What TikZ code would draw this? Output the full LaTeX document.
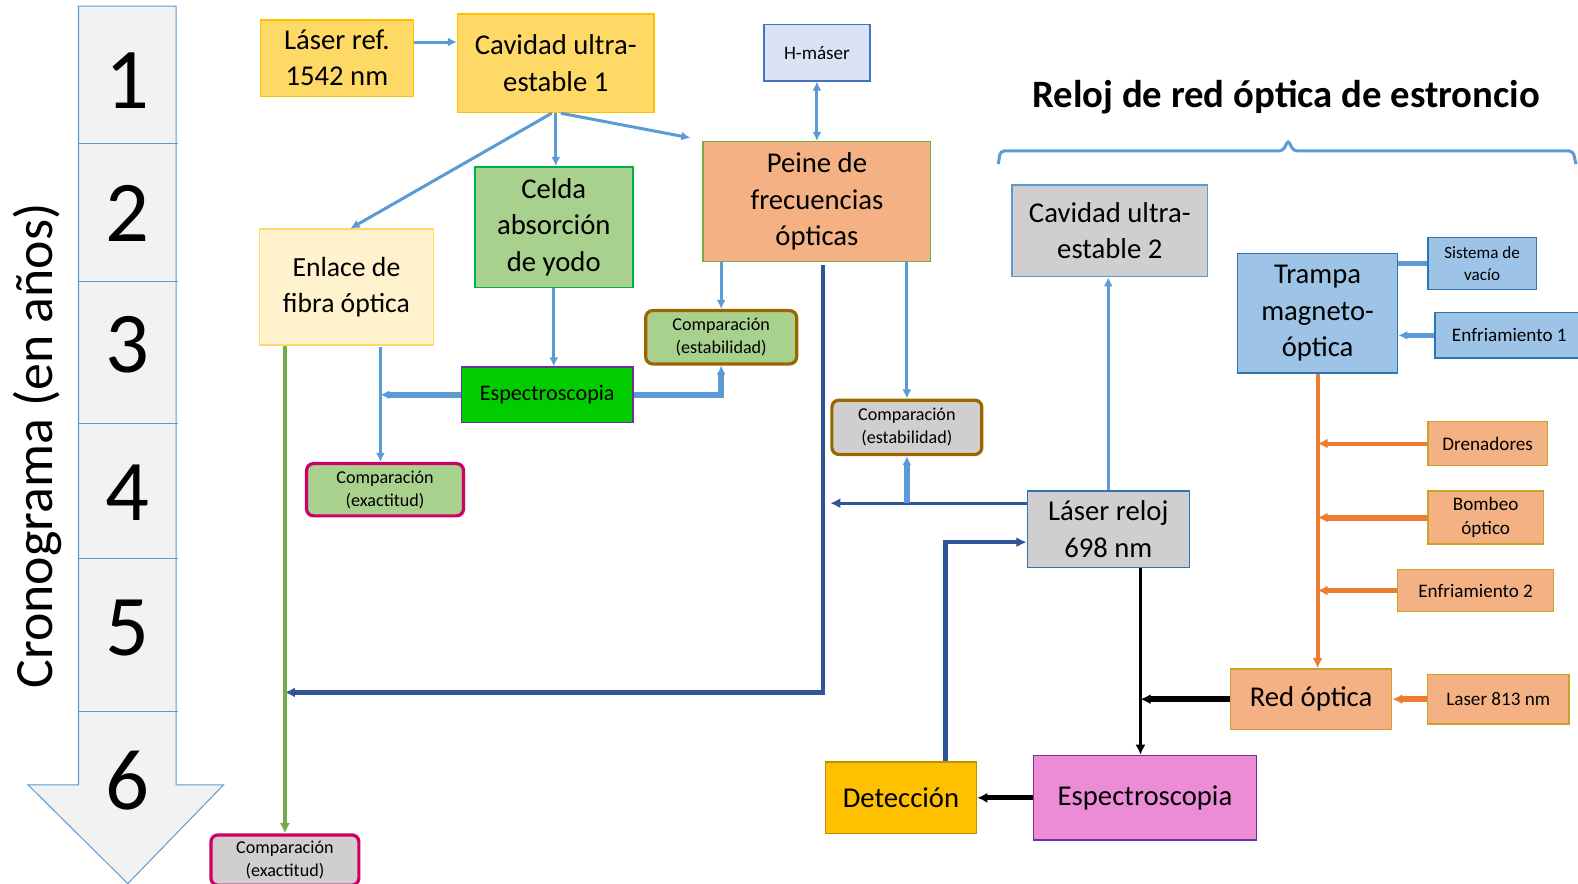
\documentclass[tikz,border=0pt]{standalone}
\usepackage{fontspec}
\setmainfont{Carlito}
\usepackage{tikz}
\usetikzlibrary{arrows.meta,positioning}

\definecolor{amarillo}{HTML}{FFD966}
\definecolor{ambar}{HTML}{FFC000}
\definecolor{ambaroscuro}{HTML}{BF9000}
\definecolor{crema}{HTML}{FFF2CC}
\definecolor{verdeclaro}{HTML}{A9D18E}
\definecolor{verdeborde}{HTML}{00B050}
\definecolor{verdevivo}{HTML}{00CC00}
\definecolor{oliva}{HTML}{70AD47}
\definecolor{morado}{HTML}{7030A0}
\definecolor{salmon}{HTML}{F4B183}
\definecolor{celeste}{HTML}{DAE3F3}
\definecolor{azulmedio}{HTML}{4472C4}
\definecolor{azulclaro}{HTML}{5B9BD5}
\definecolor{azulcaja}{HTML}{9DC3E6}
\definecolor{azulborde}{HTML}{2E75B6}
\definecolor{azuloscuro}{HTML}{2F5597}
\definecolor{gris}{HTML}{D0CECE}
\definecolor{grisflecha}{HTML}{F2F2F2}
\definecolor{marron}{HTML}{9C6500}
\definecolor{fucsia}{HTML}{CC0066}
\definecolor{naranja}{HTML}{ED7D31}
\definecolor{dorado}{HTML}{C9A227}
\definecolor{rosa}{HTML}{EC8CD6}

\begin{document}
\begin{tikzpicture}[
        x=1pt, y=-1pt,
        box/.style={
            rectangle,
            draw,
            line width=1.5pt,
            align=center,
            anchor=north west,
            inner sep=0pt,
            font=\fontsize{28.5}{36}\selectfont
        },
        smallbox/.style={box, font=\fontsize{19}{24}\selectfont},
        cmpbox/.style={box, rounded corners=7pt, line width=3.2pt, font=\fontsize{18}{23}\selectfont},
        lb/.style={-{Latex[length=9pt,width=9pt]}, draw=azulclaro, line width=3pt},
        lbthick/.style={lb, line width=5.5pt},
        db/.style={-{Latex[length=10pt,width=10pt]}, draw=azuloscuro, line width=4.5pt},
        neg/.style={-{Latex[length=10pt,width=10pt]}, draw=black, line width=3pt},
        nar/.style={-{Latex[length=10pt,width=10pt]}, draw=naranja, line width=4pt},
        verdelinea/.style={-{Latex[length=10pt,width=10pt]}, draw=oliva, line width=3.5pt}
    ]
    \useasboundingbox (0,0) rectangle (1568,878);

    \draw[azulclaro, fill=grisflecha, line width=1pt] (78,6) -- (175,6) -- (175,780) -- (222,780) -- (127,878) -- (28,780) -- (78,780) -- cycle;
    \foreach \y in {143,280,421,555,707}
        \draw[azulclaro, line width=1pt] (78,\y) -- (177,\y);
    \foreach \n/\y in {1/80,2/212,3/343,4/490,5/624,6/776}
        \node[font=\fontsize{86}{86}\selectfont] (anio\n) at (127,\y) {\n};
    \node[rotate=90, font=\fontsize{53.5}{56}\selectfont] (crono) at (37,443) {Cronograma (en años)};

    \node[box, fill=amarillo, draw=ambar, minimum width=152pt, minimum height=76pt] (laserref) at (258,19) {Láser ref.\\1542 nm};
    \node[box, fill=amarillo, draw=ambar, minimum width=195pt, minimum height=98pt] (cavidad1) at (454,13) {Cavidad ultra-\\estable 1};
    \node[box, fill=salmon, draw=oliva, minimum width=226pt, minimum height=119pt] (peine) at (698,140) {Peine de\\frecuencias\\ópticas};
    \node[smallbox, fill=celeste, draw=azulmedio, minimum width=105pt, minimum height=56pt, above=59pt of peine] (hmaser) {H-máser};
    \node[box, fill=verdeclaro, draw=verdeborde, minimum width=157pt, minimum height=120pt] (celda) at (471,165) {Celda\\absorción\\de yodo};
    \node[box, fill=crema, draw=amarillo, minimum width=173pt, minimum height=115pt, font=\fontsize{27.5}{35}\selectfont] (enlace) at (257,227) {Enlace de\\fibra óptica};
    \node[box, fill=verdevivo, draw=morado, minimum width=170pt, minimum height=55pt, font=\fontsize{22}{26}\selectfont] (espec1) at (458,364) {Espectroscopia};
    \node[cmpbox, fill=verdeclaro, draw=marron, minimum width=150pt, minimum height=53pt] (compest1) at (640,307) {Comparación\\(estabilidad)};
    \node[cmpbox, fill=gris, draw=marron, minimum width=149pt, minimum height=54pt] (compest2) at (825,396) {Comparación\\(estabilidad)};
    \node[cmpbox, fill=verdeclaro, draw=fucsia, minimum width=156pt, minimum height=52pt] (compexa1) at (303,459) {Comparación\\(exactitud)};
    \node[cmpbox, fill=gris, draw=fucsia, minimum width=147pt, minimum height=50pt] (compexa2) at (208,828) {Comparación\\(exactitud)};

    \node[font=\bfseries\fontsize{38.5}{40}\selectfont] (titulo) at (1278,97) {Reloj de red óptica de estroncio};
    \draw[azulclaro, line width=3pt, rounded corners=4pt] (992,163) -- (994,150) -- (1275,150) -- (1280,139) -- (1285,150) -- (1563,150) -- (1566,163);

    \node[box, fill=gris, draw=azulclaro, minimum width=194pt, minimum height=91pt] (cavidad2) at (1005,183) {Cavidad ultra-\\estable 2};
    \node[box, fill=azulcaja, draw=azulborde, minimum width=159pt, minimum height=119pt] (trampa) at (1229,251) {Trampa\\magneto-\\óptica};
    \node[smallbox, fill=azulcaja, draw=azulborde, minimum width=108pt, minimum height=52pt, font=\fontsize{17}{22}\selectfont] (vacio) at (1418,235) {Sistema de\\vacío};
    \node[smallbox, fill=azulcaja, draw=azulborde, minimum width=148pt, minimum height=45pt] (enfria1) at (1425,310) {Enfriamiento 1};
    \node[smallbox, fill=salmon, draw=dorado, minimum width=119pt, minimum height=44pt] (drenad) at (1418,418) {Drenadores};
    \node[smallbox, fill=salmon, draw=dorado, minimum width=115pt, minimum height=53pt] (bombeo) at (1418,487) {Bombeo\\óptico};
    \node[smallbox, fill=salmon, draw=dorado, minimum width=155pt, minimum height=42pt] (enfria2) at (1388,565) {Enfriamiento 2};
    \node[box, fill=gris, draw=azulborde, minimum width=161pt, minimum height=76pt] (laserreloj) at (1020,487) {Láser reloj\\698 nm};
    \node[box, fill=salmon, draw=dorado, minimum width=160pt, minimum height=60pt] (redopt) at (1222,664) {Red óptica};
    \node[smallbox, fill=salmon, draw=dorado, minimum width=141pt, minimum height=49pt, right=34pt of redopt] (laser813) {Laser 813 nm};
    \node[box, fill=rosa, draw=morado, minimum width=222pt, minimum height=84pt] (espec2) at (1026,750) {Espectroscopia};
    \node[box, fill=ambar, draw=ambaroscuro, minimum width=150pt, minimum height=71pt, left=55pt of espec2] (deteccion) {Detección};

    \draw[lb] ([yshift=16pt]laserref.east) -- ([yshift=16pt]laserref.east -| cavidad1.west);
    \draw[lb] (cavidad1.south) -- (cavidad1.south |- celda.north);
    \draw[lb] ([xshift=-4pt]cavidad1.south) -- ([xshift=4pt]enlace.north);
    \coordinate (haciapeine) at ([xshift=-12pt,yshift=3pt]peine.north west);
    \draw[lb] ([xshift=5pt]cavidad1.south) -- (haciapeine);
    \draw[lb, {Latex[length=9pt,width=9pt]}-{Latex[length=9pt,width=9pt]}] (hmaser.south) -- (hmaser.south |- peine.north);
    \draw[lb] (peine.south -| compest1.north) -- (compest1.north);
    \draw[lb] (peine.south -| compest2.north) -- (compest2.north);
    \coordinate (cruceverde) at (compexa2.north |- 0,688);
    \draw[db] ([xshift=6pt,yshift=-3pt]peine.south) |- (cruceverde);
    \draw[lb] (celda.south) -- (celda.south |- espec1.north);
    \draw[lbthick] (espec1.east) -| (compest1.south);
    \coordinate (ramalazul) at (378,345);
    \draw[lbthick] (espec1.west) -- (espec1.west -| ramalazul);
    \draw[lb] (ramalazul) -- (ramalazul |- compexa1.north);
    \draw[verdelinea] (enlace.south -| compexa2.north) -- (compexa2.north);

    \coordinate (relojizq) at (825,500);
    \draw[db, line width=3pt] (relojizq -| laserreloj.west) -- (relojizq);
    \draw[lbthick] (relojizq -| compest2.south) -- (compest2.south);
    \draw[lb, line width=2.5pt] (laserreloj.north) -- (laserreloj.north |- cavidad2.south);
    \draw[db] ([xshift=44pt]deteccion.north) |- ([yshift=-13pt]laserreloj.west);
    \coordinate (negro) at ([xshift=32pt]laserreloj.south);
    \draw[neg] (negro) -- (negro |- espec2.north);
    \draw[neg, line width=6pt] (redopt.west) -- (redopt.west -| negro);
    \draw[neg, line width=5pt] (espec2.west) -- (espec2.west -| deteccion.east);

    \draw[nar, line width=6pt] (laser813) -- (redopt);
    \draw[nar] (trampa.south) -- (trampa.south |- redopt.north);
    \draw[nar] (drenad.west) -- (drenad.west -| trampa.south);
    \draw[nar, line width=6pt] (bombeo.west) -- (bombeo.west -| trampa.south);
    \draw[nar] (enfria2.west) -- (enfria2.west -| trampa.south);
    \draw[lbthick, -] (vacio.west) -- (vacio.west -| trampa.east);
    \draw[lbthick] (enfria1.west) -- (enfria1.west -| trampa.east);
\end{tikzpicture}
\end{document}
